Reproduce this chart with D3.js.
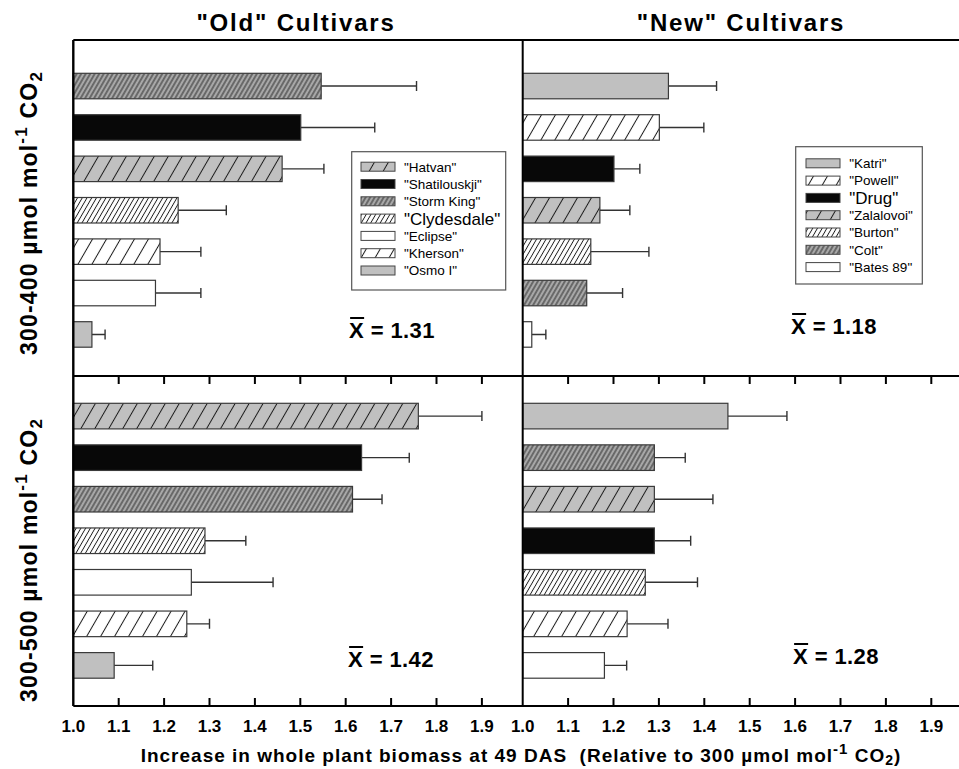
<!DOCTYPE html>
<html>
<head>
<meta charset="utf-8">
<script src="https://cdn.jsdelivr.net/npm/d3@7"></script>
<style>
  body { margin: 0; background: #fff; }
  svg { display: block; font-family: "Liberation Sans", Arial, sans-serif; }
</style>
</head>
<body>
<div id="chart"></div>
<script>
// values (relative increase, error = SE)
const old400Names  = ["Storm King", "Shatilouskji", "Hatvan", "Clydesdale", "Kherson", "Eclipse", "Osmo I"];
const old400Values = [1.546, 1.501, 1.460, 1.231, 1.191, 1.181, 1.041];
const old400Errors = [0.21, 0.163, 0.092, 0.106, 0.09, 0.10, 0.029];

const old500Names  = ["Hatvan", "Shatilouskji", "Storm King", "Clydesdale", "Eclipse", "Kherson", "Osmo I"];
const old500Values = [1.76, 1.635, 1.615, 1.29, 1.26, 1.25, 1.09];
const old500Errors = [0.14, 0.105, 0.065, 0.09, 0.18, 0.05, 0.085];

const new400Names  = ["Katri", "Powell", "Drug", "Zalalovoi", "Burton", "Colt", "Bates 89"];
const new400Values = [1.321, 1.301, 1.201, 1.170, 1.150, 1.141, 1.020];
const new400Errors = [0.106, 0.098, 0.057, 0.066, 0.128, 0.079, 0.031];

const new500Names  = ["Katri", "Colt", "Zalalovoi", "Drug", "Burton", "Powell", "Bates 89"];
const new500Values = [1.452, 1.290, 1.290, 1.290, 1.270, 1.230, 1.180];
const new500Errors = [0.13, 0.068, 0.129, 0.08, 0.115, 0.09, 0.049];

const oldLegend = ["Hatvan", "Shatilouskji", "Storm King", "Clydesdale", "Eclipse", "Kherson", "Osmo I"];
const newLegend = ["Katri", "Powell", "Drug", "Zalalovoi", "Burton", "Colt", "Bates 89"];

const means = ["1.31", "1.18", "1.42", "1.28"];
const tickValues = [1.0, 1.1, 1.2, 1.3, 1.4, 1.5, 1.6, 1.7, 1.8, 1.9];

// fill style for each cultivar
const cultivarFill = {
    "Hatvan": "url(#graySparse)", "Shatilouskji": "#080808", "Storm King": "url(#darkDense)",
    "Clydesdale": "url(#whiteDense)", "Eclipse": "#fff", "Kherson": "url(#whiteSparse)", "Osmo I": "#c0c0c0",
    "Katri": "#c0c0c0", "Powell": "url(#whiteSparse)", "Drug": "#080808", "Zalalovoi": "url(#graySparse)",
    "Burton": "url(#whiteDense)", "Colt": "url(#darkDense)", "Bates 89": "#fff"
};
const bigLegend = ["Clydesdale", "Drug"];

const width = 959, height = 769;
const top0 = 40, mid = 376, bot = 706;
const leftX = 73.3, divX = 522.7, pxPerUnit = 454;

const svg = d3.select("#chart").append("svg")
    .attr("width", width)
    .attr("height", height);

const defs = svg.append("defs");

function hatch(id, bg, spacing, sw) {
    const p = defs.append("pattern")
        .attr("id", id)
        .attr("patternUnits", "userSpaceOnUse")
        .attr("width", spacing)
        .attr("height", 20)
        .attr("patternTransform", "rotate(30)");
    p.append("rect").attr("width", spacing).attr("height", 20).attr("fill", bg);
    p.append("line")
        .attr("x1", spacing / 2).attr("x2", spacing / 2)
        .attr("y1", 0).attr("y2", 20)
        .attr("stroke", "#1a1a1a")
        .attr("stroke-width", sw);
}
hatch("graySparse", "#c0c0c0", 12.1, 1);
hatch("whiteSparse", "#fff", 12.1, 1);
hatch("whiteDense", "#fff", 4.1, 0.9);
hatch("darkDense", "#a8a8a8", 3.9, 0.9);

const xLeft = d3.scaleLinear().domain([1, 2]).range([leftX, leftX + pxPerUnit]);
const xRight = d3.scaleLinear().domain([1, 2]).range([divX, divX + pxPerUnit]);

const panels = [
    { names: old400Names, values: old400Values, errors: old400Errors, x: xLeft, y0: top0 + 33.3, y1: mid - 28.8, mean: means[0], mx: 392, my: 338 },
    { names: new400Names, values: new400Values, errors: new400Errors, x: xRight, y0: top0 + 33.3, y1: mid - 28.8, mean: means[1], mx: 834, my: 334 },
    { names: old500Names, values: old500Values, errors: old500Errors, x: xLeft, y0: mid + 27.3, y1: bot - 27.8, mean: means[2], mx: 391, my: 667 },
    { names: new500Names, values: new500Values, errors: new500Errors, x: xRight, y0: mid + 27.3, y1: bot - 27.8, mean: means[3], mx: 836, my: 664 }
];

panels.forEach(p => {
    const y = d3.scaleBand()
        .domain(p.names)
        .range([p.y0, p.y1])
        .paddingInner(0.384)
        .paddingOuter(0);
    const g = svg.append("g");
    const rows = p.names.map((n, i) => ({ name: n, value: p.values[i], err: p.errors[i] }));

    // error bars (behind the bars)
    g.selectAll(".err")
        .data(rows)
        .enter().append("path")
        .attr("d", d => {
            const cy = y(d.name) + y.bandwidth() / 2;
            const xe = p.x(d.value + d.err);
            return `M${p.x(d.value)},${cy}H${xe}M${xe},${cy - 5}V${cy + 5}`;
        })
        .attr("fill", "none")
        .attr("stroke", "#333")
        .attr("stroke-width", 1.4);

    g.selectAll(".bar")
        .data(rows)
        .enter().append("rect")
        .attr("x", p.x(1))
        .attr("y", d => y(d.name))
        .attr("width", d => p.x(d.value) - p.x(1))
        .attr("height", y.bandwidth())
        .attr("fill", d => cultivarFill[d.name])
        .attr("stroke", "#3a3a3a")
        .attr("stroke-width", 1.2);

    // mean label, X with bar on top
    const t = g.append("text")
        .attr("x", p.mx)
        .attr("y", p.my)
        .attr("text-anchor", "middle")
        .attr("font-size", 22)
        .attr("letter-spacing", 0.4)
        .attr("font-weight", "bold")
        .text("X = " + p.mean);
    const bb = t.node().getBBox();
    g.append("line")
        .attr("x1", bb.x + 1).attr("x2", bb.x + 15)
        .attr("y1", p.my - 20).attr("y2", p.my - 20)
        .attr("stroke", "#000").attr("stroke-width", 2);
});

// frame
const frame = svg.append("g").attr("stroke", "#000").attr("fill", "none");
frame.append("line").attr("x1", leftX).attr("x2", width).attr("y1", top0).attr("y2", top0).attr("stroke-width", 2);
frame.append("line").attr("x1", leftX).attr("x2", width).attr("y1", mid).attr("y2", mid).attr("stroke-width", 2);
frame.append("line").attr("x1", leftX).attr("x2", width).attr("y1", bot).attr("y2", bot).attr("stroke-width", 2.2);
frame.append("line").attr("x1", leftX).attr("x2", leftX).attr("y1", top0).attr("y2", bot).attr("stroke-width", 2.4);
frame.append("line").attr("x1", divX).attr("x2", divX).attr("y1", top0).attr("y2", bot).attr("stroke-width", 2);

// ticks
[xLeft, xRight].forEach(x => {
    const tv = tickValues.slice(1);
    frame.selectAll(null).data(tv).enter().append("line")
        .attr("x1", d => x(d)).attr("x2", d => x(d))
        .attr("y1", mid).attr("y2", mid + 8)
        .attr("stroke-width", 2);
    frame.selectAll(null).data(tv).enter().append("line")
        .attr("x1", d => x(d)).attr("x2", d => x(d))
        .attr("y1", bot).attr("y2", bot - 8)
        .attr("stroke-width", 2);
    svg.append("g").selectAll("text").data(tickValues).enter().append("text")
        .attr("x", d => x(d))
        .attr("y", 732)
        .attr("text-anchor", "middle")
        .attr("font-size", 17)
        .attr("font-weight", "bold")
        .text(d => d.toFixed(1));
});

// legends
function legend(items, bx, by, bw, bh, sx, tx, ry0) {
    const g = svg.append("g");
    g.append("rect").attr("x", bx).attr("y", by).attr("width", bw).attr("height", bh)
        .attr("fill", "#fff").attr("stroke", "#555").attr("stroke-width", 1.2);
    items.forEach((name, i) => {
        const cy = ry0 + i * 17.3;
        g.append("rect").attr("x", sx).attr("y", cy - 4.5).attr("width", 34).attr("height", 9)
            .attr("fill", cultivarFill[name]).attr("stroke", "#444").attr("stroke-width", 1);
        g.append("text").attr("x", tx).attr("y", cy + (bigLegend.includes(name) ? 6 : 4.8))
            .attr("font-size", bigLegend.includes(name) ? 17 : 13.5)
            .text(`"${name}"`);
    });
}
legend(oldLegend, 351.7, 151.7, 154, 138.3, 361, 404, 166.7);
legend(newLegend, 795.7, 146.7, 126.6, 137.3, 806, 849.3, 163.3);

// titles
svg.append("text").attr("x", 296).attr("y", 31).attr("text-anchor", "middle")
    .attr("font-size", 24).attr("letter-spacing", 1.8).attr("font-weight", "bold").text('"Old" Cultivars');
svg.append("text").attr("x", 741).attr("y", 31).attr("text-anchor", "middle")
    .attr("font-size", 24).attr("letter-spacing", 1.8).attr("font-weight", "bold").text('"New" Cultivars');

// y labels
function yLabel(text, cy) {
    const t = svg.append("text")
        .attr("transform", `translate(37,${cy}) rotate(-90)`)
        .attr("text-anchor", "middle")
        .attr("font-size", 23)
        .attr("letter-spacing", 1.2)
        .attr("font-weight", "bold");
    t.append("tspan").text(text + " µmol mol");
    t.append("tspan").attr("dy", -10).attr("font-size", 17).text("-1");
    t.append("tspan").attr("dy", 10).text("  CO");
    t.append("tspan").attr("dy", 5).attr("font-size", 17).text("2");
}
yLabel("300-400", 213);
yLabel("300-500", 560);

// x label
const xl = svg.append("text")
    .attr("x", 521).attr("y", 762)
    .attr("text-anchor", "middle")
    .attr("font-size", 19)
    .attr("letter-spacing", 1)
    .attr("font-weight", "bold")
    .attr("xml:space", "preserve");
xl.append("tspan").text("Increase in whole plant biomass at 49 DAS  (Relative to 300 µmol mol");
xl.append("tspan").attr("dy", -8).attr("font-size", 15).text("-1");
xl.append("tspan").attr("dy", 8).text(" CO");
xl.append("tspan").attr("dy", 3).attr("font-size", 14).text("2");
xl.append("tspan").attr("dy", -3).text(")");
</script>
</body>
</html>
